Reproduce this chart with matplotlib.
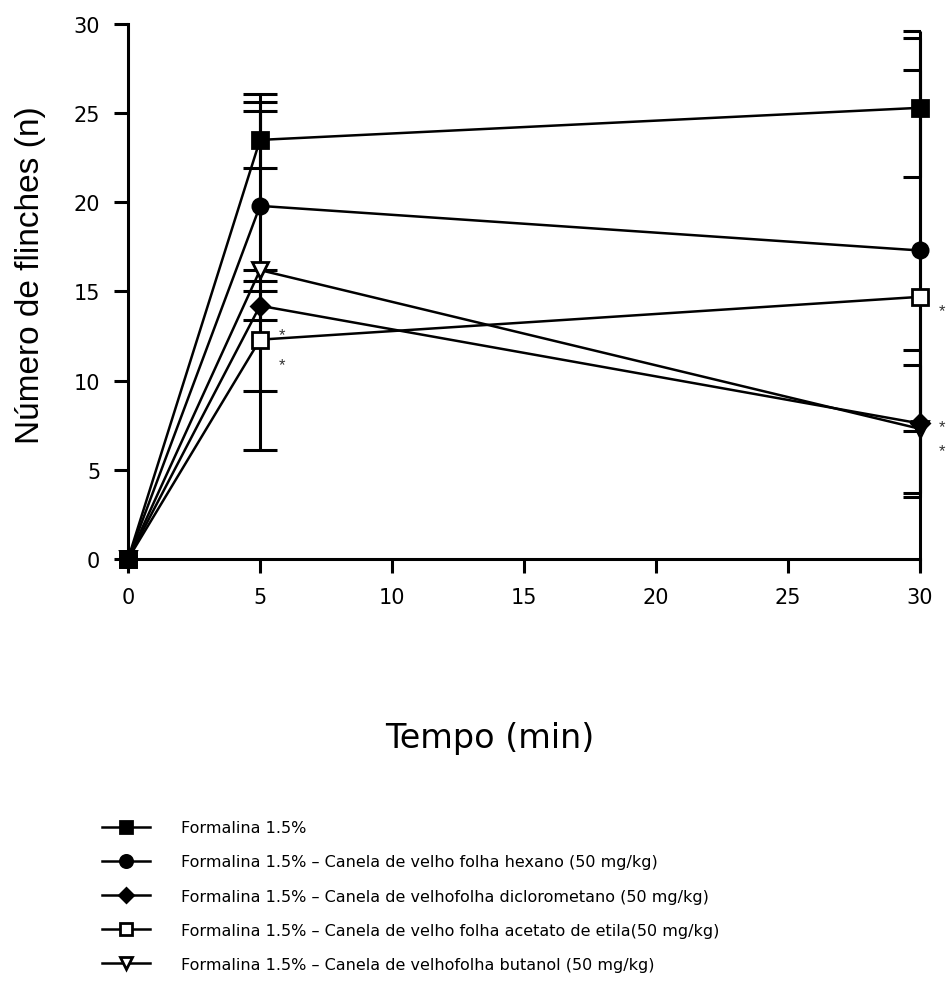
import numpy as np
import matplotlib.pyplot as plt

plt.rcParams['font.family'] = ['Liberation Sans', 'DejaVu Sans']

tempo = [0, 5, 30]

labels = [
    "Formalina 1.5%",
    "Formalina 1.5% – Canela de velho folha hexano (50 mg/kg)",
    "Formalina 1.5% – Canela de velhofolha diclorometano (50 mg/kg)",
    "Formalina 1.5% – Canela de velho folha acetato de etila(50 mg/kg)",
    "Formalina 1.5% – Canela de velhofolha butanol (50 mg/kg)",
]
markers = ['s', 'o', 'D', 's', 'v']
fills = ['black', 'black', 'black', 'white', 'white']
msizes = [11, 11, 9, 11, 11]

formalina = [0, 23.5, 25.3]
hexano = [0, 19.8, 17.3]
dicloro = [0, 14.2, 7.6]
acetato = [0, 12.3, 14.7]
butanol = [0, 16.2, 7.3]
series = [formalina, hexano, dicloro, acetato, butanol]

# error bar ends (lower, upper) at 5 and 30 min
err_lo = [[0, 21.9, 21.4], [0, 9.4, 7.2], [0, 13.4, 3.5], [0, 6.1, -0.6], [0, 15.6, 3.7]]
err_hi = [[0, 25.1, 29.2], [0, 26.1, 27.4], [0, 15.0, 11.7], [0, 16.2, 29.6], [0, 25.6, 10.9]]

# significance asterisks
star_x = [5, 5, 30, 30, 30]
star_y = [12.6, 10.9, 13.9, 7.4, 6.1]

fig = plt.figure(figsize=(9.49, 9.87), dpi=100)
ax = fig.add_axes([0.1349, 0.4326, 0.8345, 0.5421])

order = [4, 3, 2, 1, 0]
handles = [None] * 5
for i in order:
    y = np.array(series[i])
    lo = y - np.array(err_lo[i])
    hi = np.array(err_hi[i]) - y
    eb = ax.errorbar(tempo[1:], y[1:], yerr=[lo[1:], hi[1:]], fmt='none', ecolor='black',
                     elinewidth=2.2, capsize=12, capthick=2.2, zorder=2)
    for bl in eb[2]:
        bl.set_clip_on(False)
    h, = ax.plot(tempo, y, color='black', lw=1.8, marker=markers[i], ms=msizes[i],
                 mfc=fills[i], mec='black', mew=2, clip_on=False, zorder=3 + (4 - i))
    handles[i] = h

for sx, sy in zip(star_x, star_y):
    ax.annotate('*', xy=(sx, sy), xytext=(16, 0), textcoords='offset points',
                ha='center', va='center', fontsize=12, color='#333333',
                annotation_clip=False)

ax.set_xlim(0, 30)
ax.set_ylim(0, 30)
ax.set_xticks([0, 5, 10, 15, 20, 25, 30])
ax.set_yticks([0, 5, 10, 15, 20, 25, 30])
for s in ['top', 'right']:
    ax.spines[s].set_visible(False)
for s in ['left', 'bottom']:
    ax.spines[s].set_linewidth(2.2)
ax.tick_params(axis='both', length=10, width=2.2, pad=10, labelsize=15)
for lab in ax.get_xticklabels() + ax.get_yticklabels():
    lab.set_family(['DejaVu Sans'])

ax.set_xlabel("Tempo (min)", fontsize=24, family=['DejaVu Sans'])
ax.xaxis.set_label_coords(0.457, -0.302)
ax.set_ylabel("Número de flinches (n)", fontsize=24)
ax.yaxis.set_label_coords(-0.104, 0.533)

fig.legend(handles, labels, loc='upper left', bbox_to_anchor=(0.108, 0.168),
           frameon=False, prop={'family': 'DejaVu Sans', 'size': 11.5},
           handlelength=3.0, handletextpad=1.9, markerscale=0.8,
           labelspacing=1.2, borderpad=0, borderaxespad=0)

fig.savefig('out.png', dpi=100)
